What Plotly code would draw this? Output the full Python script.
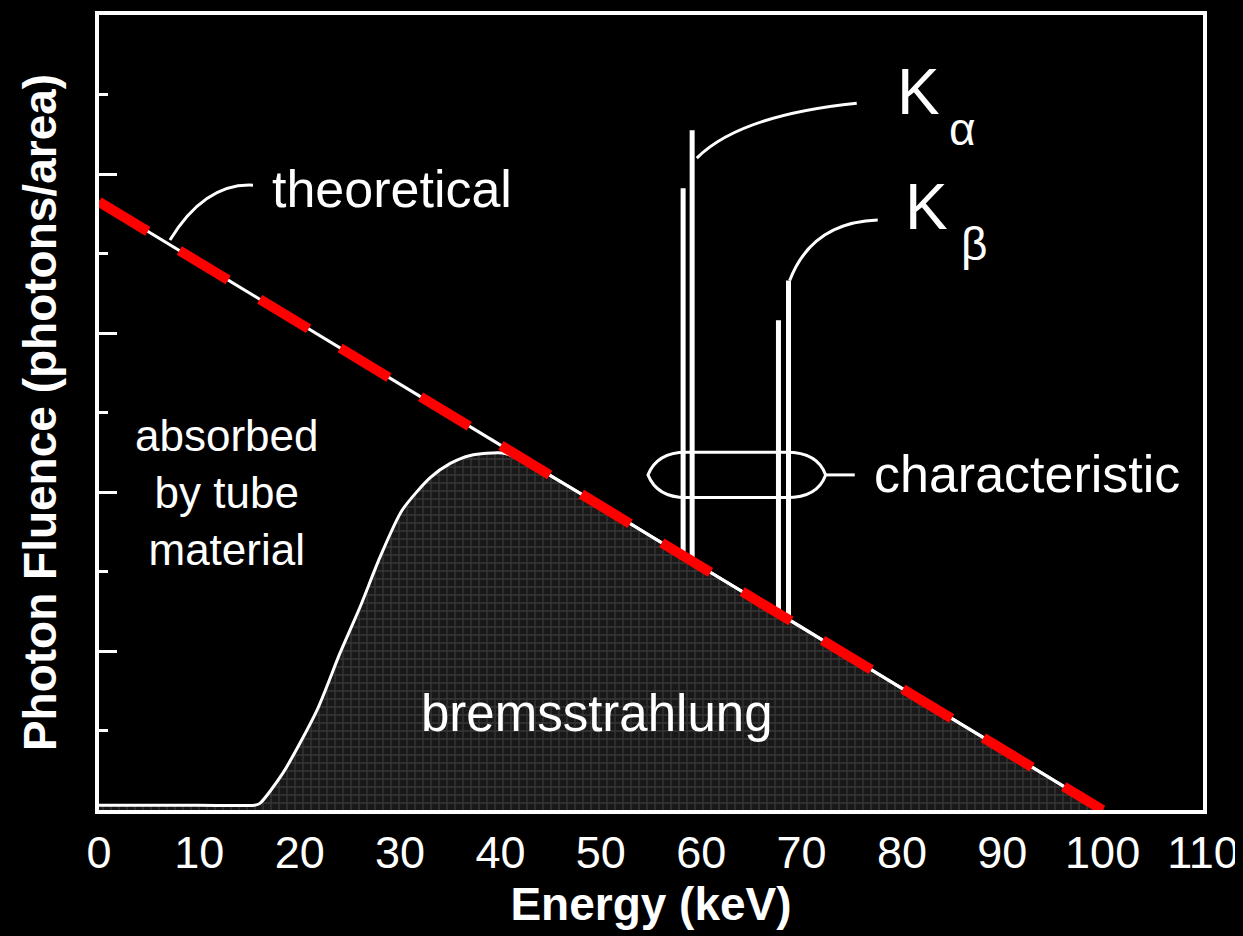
import numpy as np
import plotly.graph_objects as go

# ---------------- data ----------------
x_ticks = [0, 10, 20, 30, 40, 50, 60, 70, 80, 90, 100, 110]

theory_energy = [0, 100]
theory_fluence = [7.65, 0.0]

brems_energy = [0, 5, 10, 15.5, 16.0, 18.3, 21.7, 24.0, 26.0, 28.0, 30.2, 33.0,
                35.0, 37.0, 40.2, 42.6, 44.9, 50, 60, 70, 80, 90, 100]
brems_fluence = [0.06, 0.06, 0.06, 0.06, 0.08, 0.46, 1.25, 1.97, 2.55, 3.18, 3.77, 4.18,
                 4.36, 4.46, 4.49, 4.38, 4.21, 3.83, 3.06, 2.30, 1.53, 0.77, 0.0]

char_energy = [58.2, 59.1, 67.7, 68.7]
char_top = [7.82, 8.55, 6.16, 6.66]

FONT = "Liberation Sans, Arial, sans-serif"

fig = go.Figure()

# bremsstrahlung (filled, textured)
fig.add_trace(go.Scatter(
    x=brems_energy, y=brems_fluence, mode="lines",
    line=dict(color="white", width=3, shape="spline", smoothing=0.7),
    fill="tozeroy", fillcolor="#1c1c1c",
    fillpattern=dict(shape="+", fgcolor="#555555", bgcolor="#181818", size=8, solidity=0.3),
    showlegend=False, hoverinfo="skip"))

# characteristic lines
base = np.interp(char_energy, theory_energy, theory_fluence)
cx, cy = [], []
for e, b, t in zip(char_energy, base, char_top):
    cx += [e, e, None]
    cy += [b, t, None]
fig.add_trace(go.Scatter(x=cx, y=cy, mode="lines", line=dict(color="white", width=5),
                         showlegend=False, hoverinfo="skip"))

# theoretical line (white) + red dashed overlay
fig.add_trace(go.Scatter(x=theory_energy, y=theory_fluence, mode="lines",
                         line=dict(color="white", width=3), showlegend=False, hoverinfo="skip"))
fig.add_trace(go.Scatter(x=theory_energy, y=theory_fluence, mode="lines",
                         line=dict(color="#ff0000", width=10, dash="57px,37px"),
                         showlegend=False, hoverinfo="skip"))

# ---------------- decorations ----------------
wl = dict(color="white", width=3)
shapes = [
    # leader for "theoretical"
    dict(type="path", xref="x", yref="y", path="M 7.07,7.17 Q 10.56,7.89 15.34,7.86", line=wl),
    # leader for K alpha
    dict(type="path", xref="x", yref="y", path="M 59.56,8.20 Q 63.84,8.74 75.50,8.89", line=wl),
    # leader for K beta
    dict(type="path", xref="x", yref="y", path="M 68.82,6.66 Q 71.02,7.39 77.59,7.42", line=wl),
    # ellipse around characteristic lines
    dict(type="path", xref="x", yref="y",
         path="M 54.7,4.215 Q 55.6,4.50 58.5,4.50 L 68.5,4.50 Q 71.6,4.50 72.4,4.215 "
              "Q 71.6,3.93 68.5,3.93 L 58.5,3.93 Q 55.6,3.93 54.7,4.215 Z", line=wl),
    # leader for "characteristic"
    dict(type="line", xref="x", yref="y", x0=72.4, y0=4.215, x1=75.3, y1=4.215, line=wl),
]

def ann(text, x, y, size, xanchor="left", yanchor="middle", align="left"):
    return dict(text=text, x=x, y=y, xref="x", yref="y", showarrow=False,
                xanchor=xanchor, yanchor=yanchor, align=align,
                font=dict(family=FONT, size=size, color="white"))

annotations = [
    ann("theoretical", 17.0, 7.81, 52),
    ann("characteristic", 77.0, 4.23, 52),
    ann("bremsstrahlung", 49.6, 1.21, 51, xanchor="center"),
    ann("absorbed<br>by tube<br>material", 12.75, 4.0, 44, xanchor="center", align="center"),
    ann("K", 79.3, 9.03, 64),
    ann("α", 84.5, 8.57, 46),
    ann("K", 80.1, 7.58, 64),
    ann("β", 85.7, 7.12, 46),
]

# the page body adds an 8 px margin, so the figure is 8 px smaller each way
fig.update_layout(
    width=1235, height=928,
    paper_bgcolor="black", plot_bgcolor="black",
    margin=dict(l=91, r=40, t=7, b=126),
    shapes=shapes, annotations=annotations,
    font=dict(family=FONT, color="white"),
    xaxis=dict(range=[0, 110], tickvals=x_ticks, ticktext=[str(v) for v in x_ticks],
               ticks="", showgrid=False, zeroline=False, automargin=False,
               showline=True, linecolor="white", linewidth=4, mirror=True,
               tickfont=dict(family=FONT, size=45, color="white"),
               title=dict(text="<b>Energy (keV)</b>", font=dict(family=FONT, size=46, color="white"),
                          standoff=4)),
    yaxis=dict(range=[0, 10], tickvals=[2, 4, 6, 8], showticklabels=False,
               ticks="inside", ticklen=18, tickwidth=3, tickcolor="white",
               minor=dict(tickvals=[1, 3, 5, 7, 9], ticks="inside", ticklen=9,
                          tickwidth=3, tickcolor="white", showgrid=False),
               showgrid=False, zeroline=False, automargin=False,
               showline=True, linecolor="white", linewidth=4, mirror=True,
               title=dict(text="<b>Photon Fluence (photons/area)</b>",
                          font=dict(family=FONT, size=46, color="white"), standoff=25)),
)

fig.write_html("out.html", post_script="document.body.style.background='black';")
